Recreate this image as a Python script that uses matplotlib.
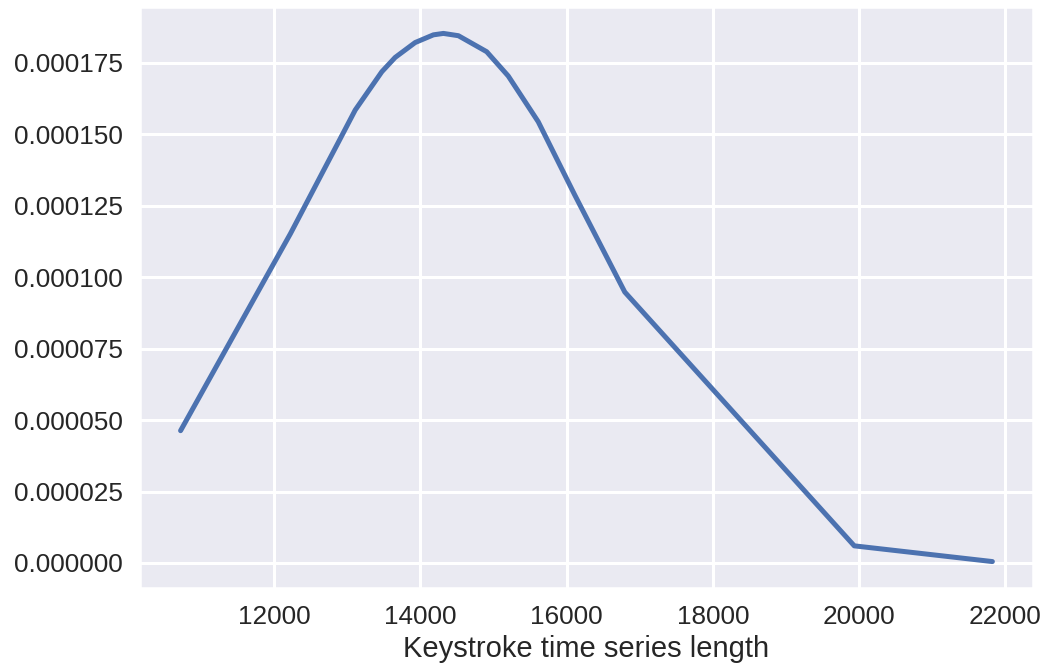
import numpy as np
import matplotlib
matplotlib.use("Agg")
import matplotlib.pyplot as plt
import seaborn as sns

# lengths of keystroke series and the estimated density at each
lengths = [10719, 11880, 12221, 12653, 12881, 13108, 13472, 13654, 13927, 14177,
           14314, 14519, 14906, 15201, 15611, 16112, 16795, 19934, 21823]
density = [0.0000463, 0.0000996, 0.0001152, 0.0001363, 0.0001474, 0.0001585,
           0.0001719, 0.0001769, 0.0001821, 0.0001848, 0.0001853, 0.0001845,
           0.0001789, 0.0001704, 0.0001544, 0.0001287, 0.0000948, 0.0000060,
           0.0000005]

sns.set_theme(style="darkgrid", context="talk")
plt.rcParams['font.family'] = ['Liberation Sans', 'DejaVu Sans']

fig = plt.figure(figsize=(10.47, 6.68), dpi=100)
ax = fig.add_axes([0.1337, 0.1198, 0.8529, 0.8697])
ax.plot(lengths, density, color="#4c72b0", linewidth=3.6)

ax.set_xticks([12000, 14000, 16000, 18000, 20000, 22000])
ax.set_yticks(np.arange(0, 0.0002, 0.000025))
ax.yaxis.set_major_formatter(matplotlib.ticker.FormatStrFormatter('%.6f'))
ax.tick_params(labelsize=18.8)
ax.set_xlabel("Keystroke time series length", fontsize=21, labelpad=4)
for line in ax.get_xgridlines() + ax.get_ygridlines():
    line.set_linewidth(2.2)

fig.savefig("out.png", dpi=100)
